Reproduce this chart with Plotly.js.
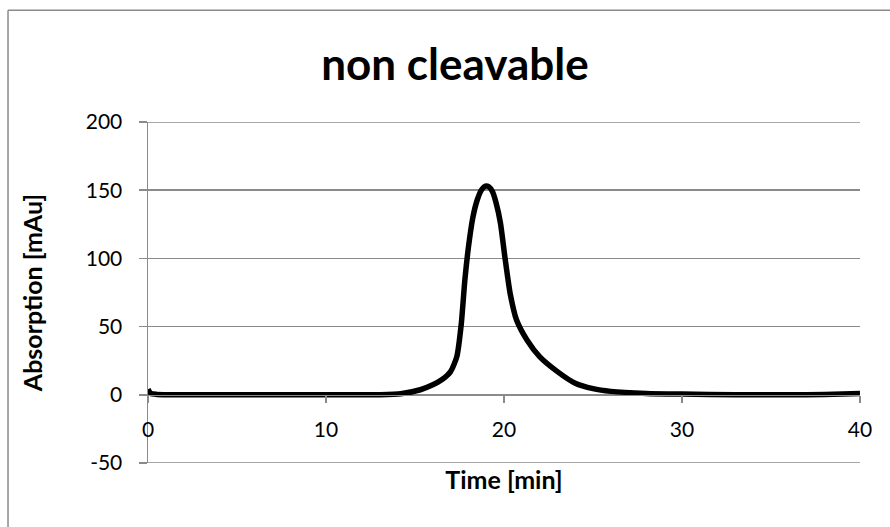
<!DOCTYPE html>
<html>
<head>
<meta charset="utf-8">
<script src="https://cdn.plot.ly/plotly-3.0.1.min.js"></script>
<style>html,body{margin:0;padding:0;background:#fff;}#chart{width:890px;height:527px;}</style>
</head>
<body>
<div id="chart"></div>
<script>
const chartTitle = "non cleavable";
const xTitle = "Time [min]";
const yTitle = "Absorption [mAu]";
const timeMin = [0, 0.15, 0.5, 2, 4, 6, 8, 10, 12, 13, 14.2, 15.3, 16, 16.5, 17, 17.35, 17.6, 17.8, 18, 18.25, 18.5, 18.75, 18.95, 19.15, 19.35, 19.55, 19.8, 20.05, 20.35, 20.7, 21.3, 22, 23, 24, 25, 26, 28, 30, 33, 36, 38, 40];
const absorption = [4, 1, 0.3, 0.1, 0, 0, 0, 0, 0, 0.1, 0.8, 3.7, 7.3, 11, 17, 28, 52, 84, 108, 130, 143, 150.5, 153, 152.5, 149, 141, 126, 101, 74, 55, 40, 28, 17, 8.5, 4.5, 2.5, 1, 0.5, 0, 0, 0.3, 1];
const xTicks = [0, 10, 20, 30, 40];
const yTicks = [-50, 0, 50, 100, 150, 200];

const FONT = "Lato, 'Open Sans', sans-serif";
const GRAY = "#8a8a8a";

const trace = {
  x: timeMin, y: absorption, type: "scatter", mode: "lines",
  line: {color: "#000", width: 5.5, shape: "spline", smoothing: 0.6},
  hoverinfo: "skip"
};

// gridlines at the range ends (Plotly clips those at the plot edges)
const edgeGrid = [yTicks[0], yTicks[yTicks.length - 1]].map(v => ({
  type: "line", xref: "paper", yref: "y", x0: 0, x1: 1, y0: v, y1: v,
  line: {color: GRAY, width: 1.5}, layer: "below"
}));

const layout = {
  width: 890, height: 527,
  margin: {l: 148, r: 30, t: 122, b: 64},
  paper_bgcolor: "#fff", plot_bgcolor: "rgba(0,0,0,0)",
  showlegend: false,
  font: {family: FONT, color: "#000"},
  title: {text: "<b>" + chartTitle + "</b>", font: {family: FONT, size: 44, color: "#000"},
          x: 455 / 890, xref: "container", xanchor: "center", y: 0.877, yref: "container", yanchor: "middle"},
  xaxis: {
    range: [0, 40], tickvals: xTicks, ticktext: xTicks.map(String),
    anchor: "free", position: 0.2,
    showline: true, linecolor: GRAY, linewidth: 1.5,
    ticks: "outside", ticklen: 7, tickcolor: GRAY, tickwidth: 1.5,
    ticklabelstandoff: 8,
    showgrid: false, zeroline: false,
    tickfont: {family: FONT, size: 21, color: "#000"},
    title: {text: "<b>" + xTitle + "</b>", font: {family: FONT, size: 25, color: "#000"}, standoff: 32}
  },
  yaxis: {
    range: [-50, 200], tickvals: yTicks, ticktext: yTicks.map(String),
    showline: true, linecolor: GRAY, linewidth: 1.5,
    ticks: "outside", ticklen: 8, tickcolor: GRAY, tickwidth: 1.5,
    ticklabelstandoff: 12,
    showgrid: true, gridcolor: GRAY, gridwidth: 1.5,
    zeroline: false,
    tickfont: {family: FONT, size: 21, color: "#000"},
    title: {text: "<b>" + yTitle + "</b>", font: {family: FONT, size: 25, color: "#000"}, standoff: 36}
  },
  shapes: edgeGrid.concat([
    {type: "line", xref: "paper", yref: "paper", x0: -0.1966, x1: 1.2, y0: 1.328, y1: 1.328,
     line: {color: GRAY, width: 1.5}},
    {type: "line", xref: "paper", yref: "paper", x0: -0.1966, x1: -0.1966, y0: -0.5, y1: 1.328,
     line: {color: GRAY, width: 1.5}}
  ])
};

Plotly.newPlot("chart", [trace], layout, {staticPlot: true, displayModeBar: false});
</script>
</body>
</html>
